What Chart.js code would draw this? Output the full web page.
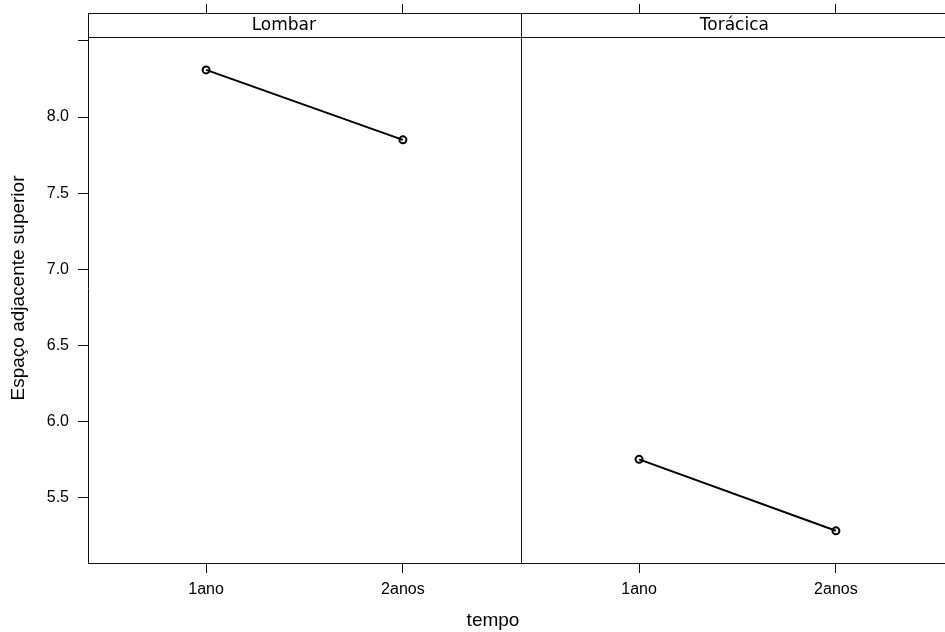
<!DOCTYPE html>
<html>
<head>
<meta charset="utf-8">
<script src="https://cdn.jsdelivr.net/npm/chart.js@4/dist/chart.umd.min.js"></script>
<style>
html, body { margin: 0; padding: 0; background: #fff; overflow: hidden; width: 945px; height: 632px; }
#wrap { width: 945px; height: 632px; overflow: hidden; }
canvas { display: block; }
</style>
</head>
<body>
<div id="wrap"><canvas id="espaco-chart" width="960" height="632"></canvas></div>
<script>
var panels = ['Lombar', 'Torácica'];
var categorias = ['1ano', '2anos'];
var lombar = [8.31, 7.85];
var toracica = [5.75, 5.28];
var yTicks = [5.5, 6.0, 6.5, 7.0, 7.5, 8.0, 8.5];
var yLabels = ['5.5', '6.0', '6.5', '7.0', '7.5', '8.0', ''];

// both panels share one x scale, each panel covers 0.4 .. 2.6
var panelWidth = 2.2;
var xTicks = [];
var xLabels = [];
panels.forEach(function (p, k) {
    categorias.forEach(function (c, i) {
        xTicks.push(i + 1 + k * panelWidth);
        xLabels.push(c);
    });
});

function pontos(values, k) {
    return values.map(function (v, i) {
        return {x: i + 1 + k * panelWidth, y: v};
    });
}

var ink = '#111';
var tickFont = {family: 'Liberation Sans, Arial, sans-serif', size: 16};

// strip boxes, panel divider and x title
var stripPlugin = {
    id: 'strips',
    afterDraw: function (chart) {
        var ctx = chart.ctx;
        var a = chart.chartArea;
        var x = chart.scales.x;
        var stripHeight = 24;
        var textAt = [1.395, 3.684];
        ctx.save();
        ctx.strokeStyle = ink;
        ctx.lineWidth = 1;
        ctx.beginPath();
        ctx.moveTo(a.left, a.top + stripHeight + 0.5);
        ctx.lineTo(a.right, a.top + stripHeight + 0.5);
        var div = Math.round(x.getPixelForValue(0.4 + panelWidth)) + 0.5;
        ctx.moveTo(div, a.top);
        ctx.lineTo(div, a.bottom);
        ctx.stroke();

        ctx.fillStyle = '#000';
        ctx.font = '17px "DejaVu Sans", sans-serif';
        ctx.textAlign = 'center';
        ctx.textBaseline = 'middle';
        panels.forEach(function (p, k) {
            ctx.fillText(p, x.getPixelForValue(textAt[k]), a.top + stripHeight / 2 + 1);
        });

        ctx.font = '19px "Liberation Sans", Arial, sans-serif';
        ctx.fillText('tempo', 493, 621);
        ctx.restore();
    }
};

var espaco = document.getElementById('espaco-chart');

var espacoChart = new Chart(espaco, {
    type: 'line',
    data: {
        datasets: [{
            label: panels[0],
            data: pontos(lombar, 0)
        }, {
            label: panels[1],
            data: pontos(toracica, 1)
        }]
    },
    options: {
        responsive: false,
        animation: false,
        devicePixelRatio: 1,
        layout: {
            padding: {left: 0, right: 6, top: 0, bottom: 0}
        },
        elements: {
            line: {borderColor: '#000', borderWidth: 2, tension: 0},
            point: {
                radius: 3.5,
                borderWidth: 2,
                borderColor: '#000',
                backgroundColor: 'rgba(0,0,0,0)',
                pointStyle: 'circle'
            }
        },
        plugins: {
            legend: {display: false},
            tooltip: {enabled: false}
        },
        scales: {
            x: {
                type: 'linear',
                position: 'bottom',
                min: 0.4,
                max: 0.4 + 2 * panelWidth,
                afterBuildTicks: function (scale) {
                    scale.ticks = xTicks.map(function (v) { return {value: v}; });
                },
                afterFit: function (scale) {
                    scale.height = 69;
                    scale.paddingLeft = 0;
                    scale.paddingRight = 0;
                },
                ticks: {
                    color: '#000',
                    font: tickFont,
                    padding: 7,
                    maxRotation: 0,
                    callback: function (v) { return xLabels[xTicks.indexOf(v)]; }
                },
                grid: {drawOnChartArea: false, tickLength: 10, color: ink, lineWidth: 1},
                border: {color: ink, width: 1}
            },
            x2: {
                type: 'linear',
                position: 'top',
                min: 0.4,
                max: 0.4 + 2 * panelWidth,
                afterBuildTicks: function (scale) {
                    scale.ticks = xTicks.map(function (v) { return {value: v}; });
                },
                afterFit: function (scale) {
                    scale.height = 13;
                    scale.paddingLeft = 0;
                    scale.paddingRight = 0;
                },
                ticks: {display: false},
                grid: {drawOnChartArea: false, tickLength: 9, color: ink, lineWidth: 1},
                border: {color: ink, width: 1}
            },
            y: {
                type: 'linear',
                position: 'left',
                min: 5.0684,
                max: 8.684,
                afterBuildTicks: function (scale) {
                    scale.ticks = yTicks.map(function (v) { return {value: v}; });
                },
                afterFit: function (scale) {
                    scale.width = 88;
                    scale.paddingTop = 0;
                    scale.paddingBottom = 0;
                },
                ticks: {
                    color: '#000',
                    font: tickFont,
                    padding: 9,
                    callback: function (v) { return yLabels[yTicks.indexOf(v)]; }
                },
                grid: {drawOnChartArea: false, tickLength: 10, color: ink, lineWidth: 1},
                border: {color: ink, width: 1},
                title: {
                    display: true,
                    text: 'Espaço adjacente superior',
                    color: '#000',
                    font: {family: 'Liberation Sans, Arial, sans-serif', size: 19},
                    padding: {top: 7, bottom: 0}
                }
            }
        }
    },
    plugins: [stripPlugin]
});
</script>
</body>
</html>
